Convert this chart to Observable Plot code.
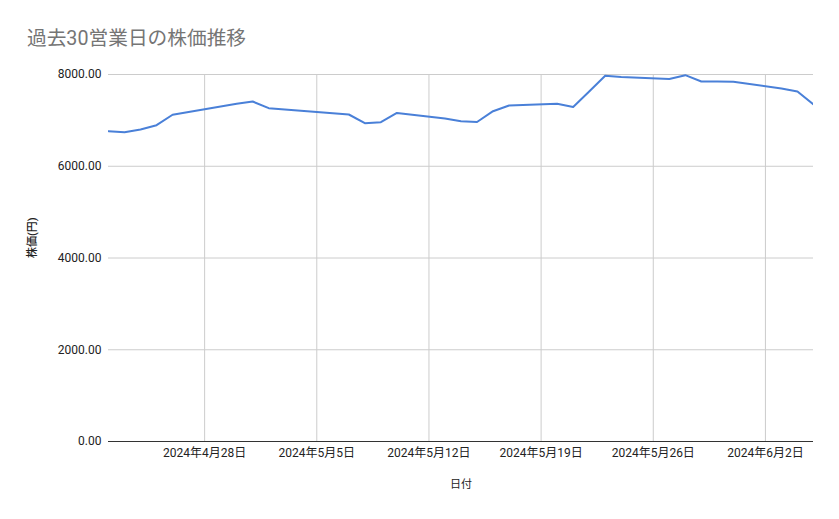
<!DOCTYPE html>
<html>
<head>
<meta charset="utf-8">
<script src="https://cdn.jsdelivr.net/npm/d3@7"></script>
<script src="https://cdn.jsdelivr.net/npm/@observablehq/plot@0.6"></script>
<style>
  body { margin: 0; background: #fff; }
  #wrap { position: relative; width: 839px; height: 519px; }
  #title { position: absolute; left: 27px; top: 29px; font-family: Roboto, "Noto Sans CJK JP", sans-serif; font-size: 19.7px; line-height: 1; color: #757575; }
</style>
</head>
<body>
<div id="wrap">
  <div id="title">過去30営業日の株価推移</div>
  <div id="chart"></div>
</div>
<script>
const dates = ["2024-04-22","2024-04-23","2024-04-24","2024-04-25","2024-04-26",
  "2024-04-30","2024-05-01","2024-05-02",
  "2024-05-07","2024-05-08","2024-05-09","2024-05-10",
  "2024-05-13","2024-05-14","2024-05-15","2024-05-16","2024-05-17",
  "2024-05-20","2024-05-21","2024-05-22","2024-05-23","2024-05-24",
  "2024-05-27","2024-05-28","2024-05-29","2024-05-30","2024-05-31",
  "2024-06-03","2024-06-04","2024-06-05"];
const prices = [6764, 6742, 6801, 6895, 7122,
  7362, 7411, 7266,
  7128, 6939, 6960, 7161,
  7041, 6982, 6965, 7200, 7324,
  7362, 7292, 7630, 7972, 7946,
  7902, 7985, 7847, 7847, 7841,
  7695, 7630, 7346];
const xTicks = ["2024-04-28","2024-05-05","2024-05-12","2024-05-19","2024-05-26","2024-06-02"];
const yTicks = [0, 2000, 4000, 6000, 8000];
const xDomain = ["2024-04-22", "2024-06-05"];

const data = dates.map((d, i) => ({date: new Date(d), price: prices[i]}));
const xTickDates = xTicks.map(d => new Date(d));
const fmtDate = d => `${d.getUTCFullYear()}年${d.getUTCMonth() + 1}月${d.getUTCDate()}日`;

const chart = Plot.plot({
  width: 839,
  height: 519,
  marginLeft: 108,
  marginRight: 26,
  marginTop: 74,
  marginBottom: 78,
  style: {fontFamily: "Roboto, 'Noto Sans CJK JP', sans-serif", fontSize: "12px", color: "#222", background: "white"},
  x: {type: "utc", domain: xDomain.map(d => new Date(d))},
  y: {domain: [0, 8000]},
  marks: [
    Plot.gridX(xTickDates, {stroke: "#cccccc", strokeOpacity: 1}),
    Plot.gridY(yTicks.filter(v => v > 0), {stroke: "#cccccc", strokeOpacity: 1}),
    Plot.ruleY([0], {stroke: "#333333", strokeWidth: 1}),
    Plot.axisY(yTicks, {tickSize: 0, tickPadding: 7, tickFormat: d => d.toFixed(2), label: null}),
    Plot.axisX(xTickDates, {tickSize: 0, tickPadding: 7, tickFormat: fmtDate, label: null}),
    Plot.lineY(data, {x: "date", y: "price", stroke: "#4a80d8", strokeWidth: 2, clip: true}),
    Plot.text(["日付"], {frameAnchor: "bottom", dy: 46, fontSize: 11, fill: "#222"}),
    Plot.text(["株価(円)"], {frameAnchor: "left", dx: -76, rotate: -90, fontSize: 11, fill: "#222", fontWeight: 500})
  ]
});
document.getElementById("chart").appendChild(chart);
</script>
</body>
</html>
